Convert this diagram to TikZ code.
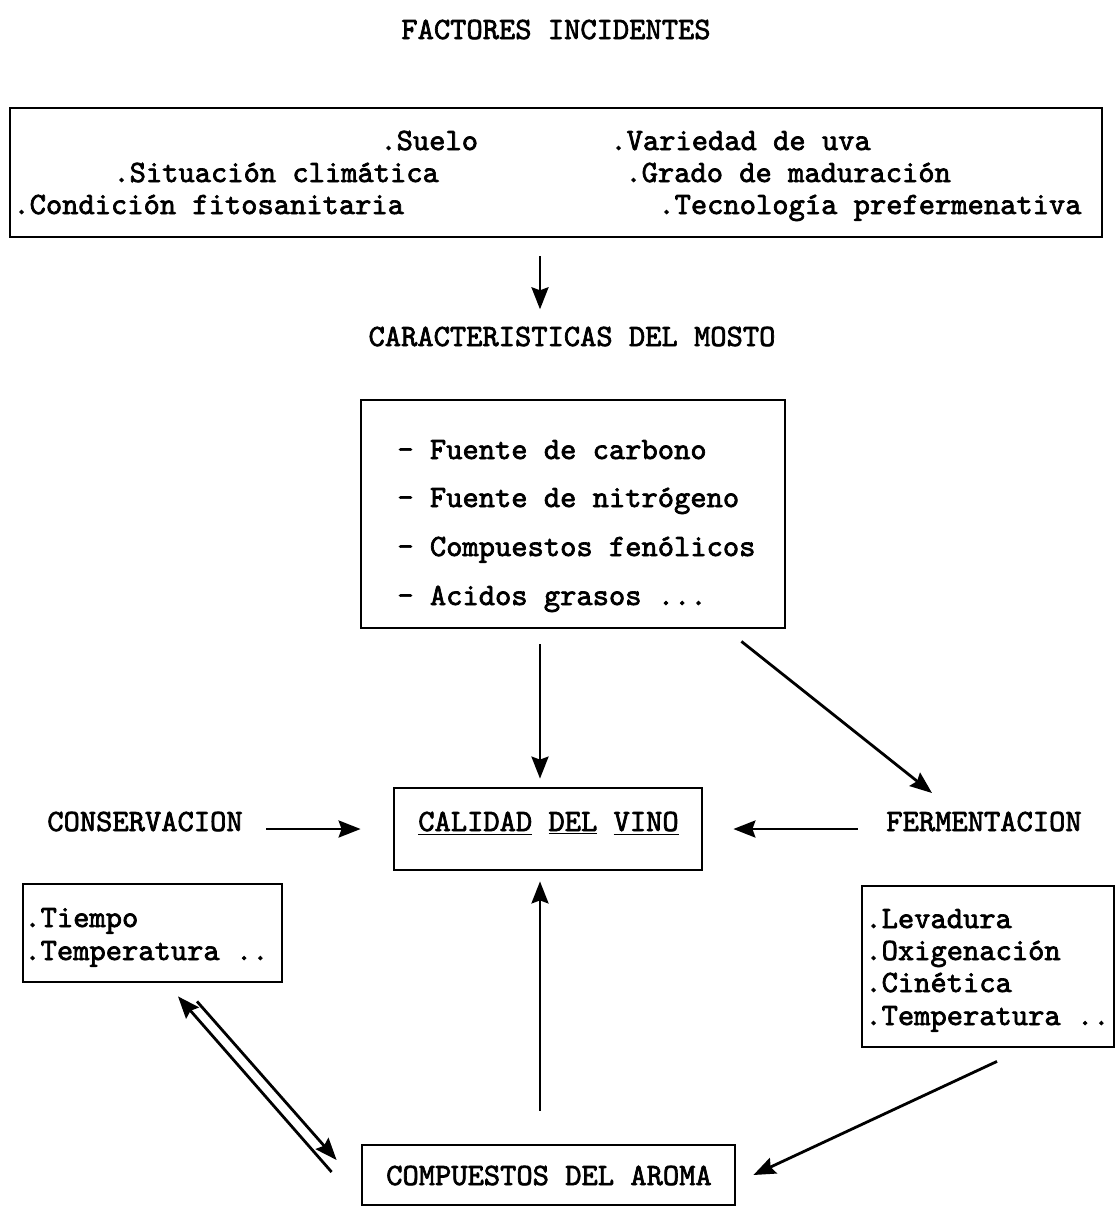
\documentclass[tikz,border=0pt]{standalone}
\usepackage{fontspec}
\usetikzlibrary{arrows.meta,calc}
\newfontfamily\heavytt{lmmono10-regular.otf}[FakeBold=2.2]
\begin{document}
\begin{tikzpicture}[x=0.5pt,y=-0.5pt,
  every node/.style={font=\fontsize{15.5}{18}\selectfont\heavytt\bfseries, inner sep=0pt},
  txt/.style={anchor=base west},
  ttl/.style={anchor=base},
  box/.style={draw, line width=1.4pt},
  arr/.style={line width=1.4pt, -{Stealth[length=11pt,width=8.5pt,inset=1.5pt]}}]
\useasboundingbox (0,0) rectangle (1117,1207);
\coordinate (axis) at (540,0);

% headings
\node[ttl] (factit) at (556,39) {FACTORES INCIDENTES};
\node[ttl] (mostotit) at (572,346) {CARACTERISTICAS DEL MOSTO};
\node[ttl] (constit) at (145,831) {CONSERVACION};
\node[ttl] (fermtit) at (984,831) {FERMENTACION};

% factors box
\node[box, minimum width=546pt, minimum height=64.5pt] (top) at (556,172.5) {};
\node[txt] (f1) at (380,150) {.Suelo};
\node[txt] (f2) at (610,150) {.Variedad de uva};
\node[txt] (f3) at (113,182) {.Situación climática};
\node[txt] (f4) at (625,182) {.Grado de maduración};
\node[txt] (f5) at (13,214) {.Condición fitosanitaria};
\node[txt] (f6) at (658,214) {.Tecnología prefermenativa};

% must box
\node[box, minimum width=212pt, minimum height=114pt] (mosto) at (573,514) {};
\node[txt] (m1) at (397,459) {- Fuente de carbono};
\node[txt] (m2) at (397,507) {- Fuente de nitrógeno};
\node[txt] (m3) at (397,556) {- Compuestos fenólicos};
\node[txt] (m4) at (397,605) {- Acidos grasos ...};

% wine quality
\node[box, minimum width=154pt, minimum height=41pt] (calidad) at (548,829) {};
\node[ttl] (calidadtxt) at (548.5,831) {\underline{CALIDAD} \underline{DEL} \underline{VINO}};

% storage box
\node[box, minimum width=129.5pt, minimum height=49pt] (consbox) at (152.5,933) {};
\node[txt] (c1) at (24,927) {.Tiempo};
\node[txt] (c2) at (24,960) {.Temperatura ..};

% fermentation box
\node[box, minimum width=126pt, minimum height=80.5pt] (fermbox) at (988,966.5) {};
\node[txt] (e1) at (865,928) {.Levadura};
\node[txt] (e2) at (865,960) {.Oxigenación};
\node[txt] (e3) at (865,992) {.Cinética};
\node[txt] (e4) at (865,1025) {.Temperatura ..};

% aroma compounds
\node[box, minimum width=186.5pt, minimum height=30pt] (aroma) at (548.5,1175) {};
\node[ttl] (aromatxt) at (549,1185) {COMPUESTOS DEL AROMA};

% connectors
\draw[arr, shorten <=9pt, shorten >=8.5pt] (top.south -| axis) -- (mostotit.north -| axis);
\draw[arr, shorten <=7.5pt, shorten >=4pt] (mosto.south -| axis) -- (calidad.north -| axis);
\draw[arr] ($(mosto.south east)+(-45,12)$) -- ($(fermtit.base)+(-52,-38)$);
\draw[arr, shorten <=11.5pt, shorten >=16pt] (constit.east |- calidad.center) -- (calidad.west);
\draw[arr, shorten <=14pt, shorten >=15pt] (fermtit.west |- calidad.center) -- (calidad.east);
\draw[arr, shorten <=16.5pt, shorten >=5pt] (aroma.north -| axis) -- (calidad.south -| axis);
\draw[arr] ($(aroma.west)+(-29,-3)$) -- ($(consbox.south)+(25.5,13)$);
\draw[arr] ($(consbox.south)+(44.5,18)$) -- ($(aroma.west)+(-24,-15)$);
\draw[arr] ($(fermbox.south)+(9,13)$) -- ($(aroma.east)+(17,0)$);
\end{tikzpicture}
\end{document}
